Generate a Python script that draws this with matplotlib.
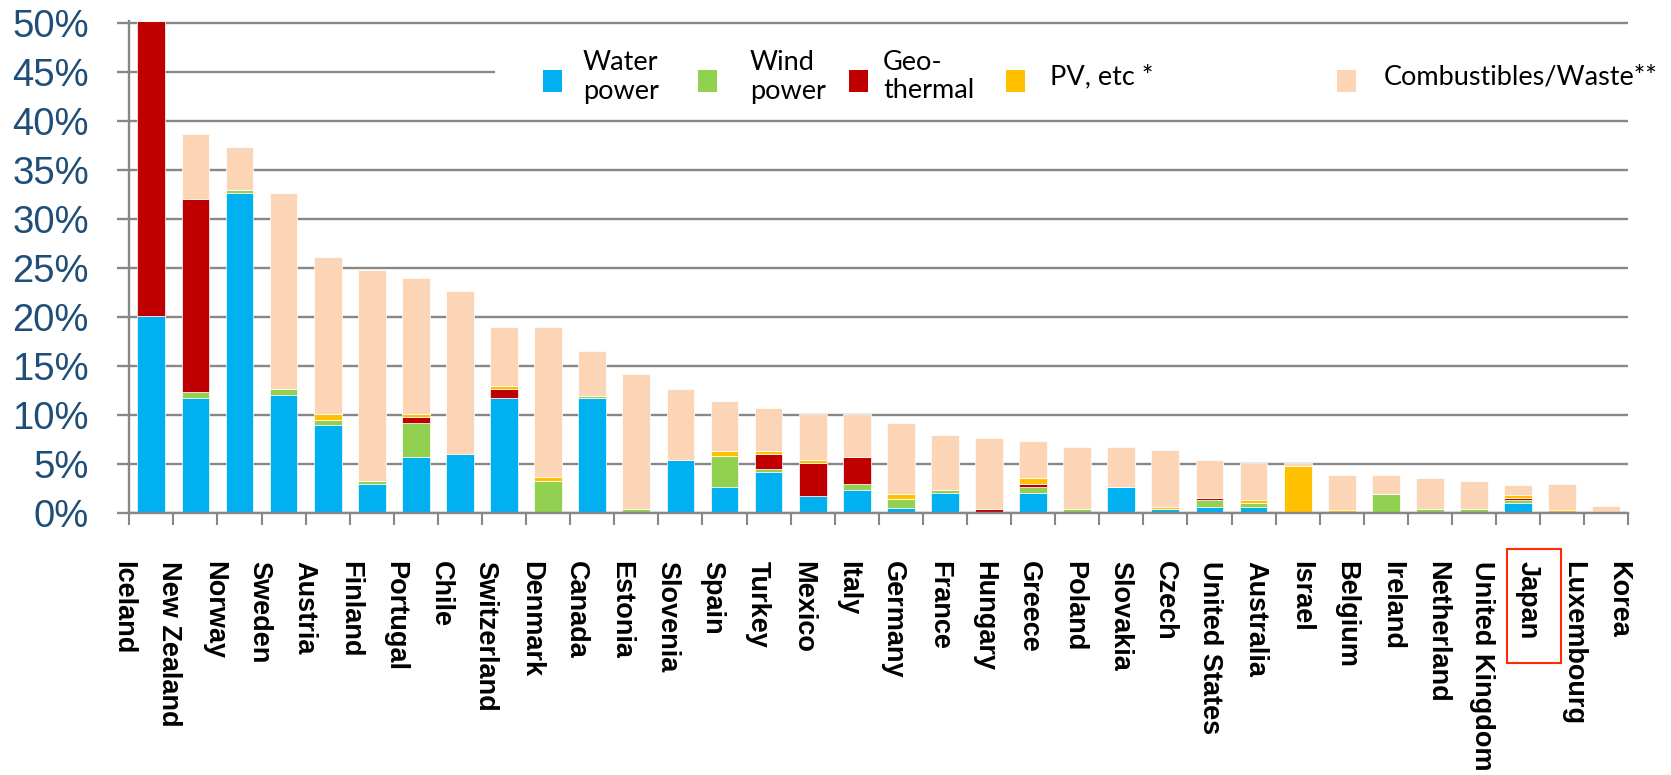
import matplotlib
matplotlib.use("Agg")
import matplotlib.pyplot as plt
from matplotlib.patches import Rectangle
from matplotlib.transforms import blended_transform_factory

plt.rcParams['font.family'] = ['Liberation Sans', 'DejaVu Sans']

countries = ["Iceland", "New Zealand", "Norway", "Sweden", "Austria", "Finland",
             "Portugal", "Chile", "Switzerland", "Denmark", "Canada", "Estonia",
             "Slovenia", "Spain", "Turkey", "Mexico", "Italy", "Germany", "France",
             "Hungary", "Greece", "Poland", "Slovakia", "Czech", "United States",
             "Australia", "Israel", "Belgium", "Ireland", "Netherland",
             "United Kingdom", "Japan", "Luxembourg", "Korea"]

# share of primary energy supply, %
water = [20.1, 11.7, 32.6, 12.0, 8.9, 2.9, 5.7, 6.0, 11.7, 0.0, 11.7, 0.0,
         5.4, 2.6, 4.2, 1.7, 2.3, 0.45, 2.0, 0.0, 2.0, 0.0, 2.6, 0.35, 0.6,
         0.6, 0.0, 0.0, 0.0, 0.0, 0.0, 0.95, 0.0, 0.0]
wind = [0.0, 0.6, 0.3, 0.6, 0.6, 0.35, 3.5, 0.0, 0.0, 3.25, 0.25, 0.4,
        0.0, 3.2, 0.3, 0.0, 0.6, 0.9, 0.3, 0.0, 0.6, 0.4, 0.0, 0.0, 0.65,
        0.35, 0.0, 0.0, 1.9, 0.35, 0.35, 0.3, 0.0, 0.0]
geothermal = [30.1, 19.7, 0.0, 0.0, 0.0, 0.0, 0.6, 0.0, 0.9, 0.0, 0.0, 0.0,
              0.0, 0.0, 1.5, 3.4, 2.8, 0.0, 0.0, 0.35, 0.3, 0.0, 0.0, 0.0, 0.3,
              0.0, 0.0, 0.0, 0.0, 0.0, 0.0, 0.3, 0.0, 0.0]
pv = [0.0, 0.0, 0.0, 0.0, 0.6, 0.0, 0.3, 0.0, 0.3, 0.35, 0.0, 0.0,
      0.0, 0.5, 0.3, 0.3, 0.0, 0.55, 0.0, 0.0, 0.6, 0.0, 0.0, 0.25, 0.0,
      0.3, 4.75, 0.3, 0.0, 0.0, 0.0, 0.3, 0.3, 0.0]
combustibles = [0.0, 6.6, 4.4, 20.0, 16.0, 21.55, 13.8, 16.6, 6.0, 15.3, 4.5, 13.8,
                7.2, 5.1, 4.4, 4.7, 4.4, 7.3, 5.6, 7.3, 3.8, 6.3, 4.1, 5.75, 3.85,
                3.85, 0.35, 3.5, 1.9, 3.15, 2.85, 1.0, 2.6, 0.65]

series = [water, wind, geothermal, pv, combustibles]
labels = ["Water\npower", "Wind\npower", "Geo-\nthermal", "PV, etc *",
          "Combustibles/Waste**"]
colors = ["#00B0F0", "#92D050", "#C00000", "#FFC000", "#FBD5B5"]

W, H = 1671, 775
fig = plt.figure(figsize=(W / 100, H / 100), dpi=100)
ax = fig.add_axes([129.3 / W, 1 - 512.7 / H, 1499 / W, 492 / H])

grey = "#878787"
n = len(countries)
xs = list(range(n))
bottom = [0.0] * n
for vals, color in zip(series, colors):
    ax.bar(xs, vals, 0.63, bottom=bottom, color=color,
           edgecolor="white", linewidth=0.5, zorder=2)
    bottom = [b + v for b, v in zip(bottom, vals)]

ax.set_xlim(-0.5, n - 0.5)
ax.set_ylim(0, 50.2)
ax.set_yticks(range(0, 51, 5))
ax.set_yticklabels([f"{v}%" for v in range(0, 51, 5)])
ax.set_xticks([i - 0.5 for i in range(n + 1)])
ax.set_xticklabels([])
ax.yaxis.grid(True, color=grey, linewidth=1.7)
ax.set_axisbelow(True)
for side in ["top", "right"]:
    ax.spines[side].set_visible(False)
for side in ["left", "bottom"]:
    ax.spines[side].set_color(grey)
    ax.spines[side].set_linewidth(1.7)
ax.tick_params(axis="x", direction="out", length=8.6, width=1.5, color=grey)
ax.tick_params(axis="y", direction="out", length=8.6, width=1.7, color=grey,
               pad=20.5, labelsize=27.5, labelcolor="#1F4E79")

# country names, top-to-bottom, spread slightly wider than the bars
trans = blended_transform_factory(ax.transData, ax.transAxes)
for i, name in enumerate(countries):
    xpos = (123.3 + 45.3 * i - 129.3) / 44.09 - 0.5
    ax.text(xpos, -0.098, name, rotation=270, ha="center", va="top",
            fontsize=19.5, fontweight="bold", transform=trans, clip_on=False)

# legend on a white band over the 45% gridline
fig.patches.append(Rectangle((495 / W, 1 - 112 / H), (W - 495) / W, 79 / H,
                             transform=fig.transFigure, facecolor="white",
                             edgecolor="none", zorder=3))
square_x = [543, 698, 849, 1006, 1337]
text_x = [583, 750, 883, 1050, 1384]
for sx, tx, lab, color in zip(square_x, text_x, labels, colors):
    fig.patches.append(Rectangle((sx / W, 1 - 92 / H), 19 / W, 22 / H,
                                 transform=fig.transFigure, facecolor=color,
                                 edgecolor="none", zorder=4))
    fig.text(tx / W, 1 - 77 / H, lab, ha="left", va="center", fontsize=19.5,
             family=["Lato", "DejaVu Sans"], linespacing=1.15, zorder=5)

# highlight box around Japan
fig.patches.append(Rectangle((1507 / W, 1 - 663 / H), 54 / W, 114 / H,
                             transform=fig.transFigure, fill=False,
                             edgecolor="#FF2A00", linewidth=1.5, zorder=5))

fig.savefig("out.png", dpi=100)
